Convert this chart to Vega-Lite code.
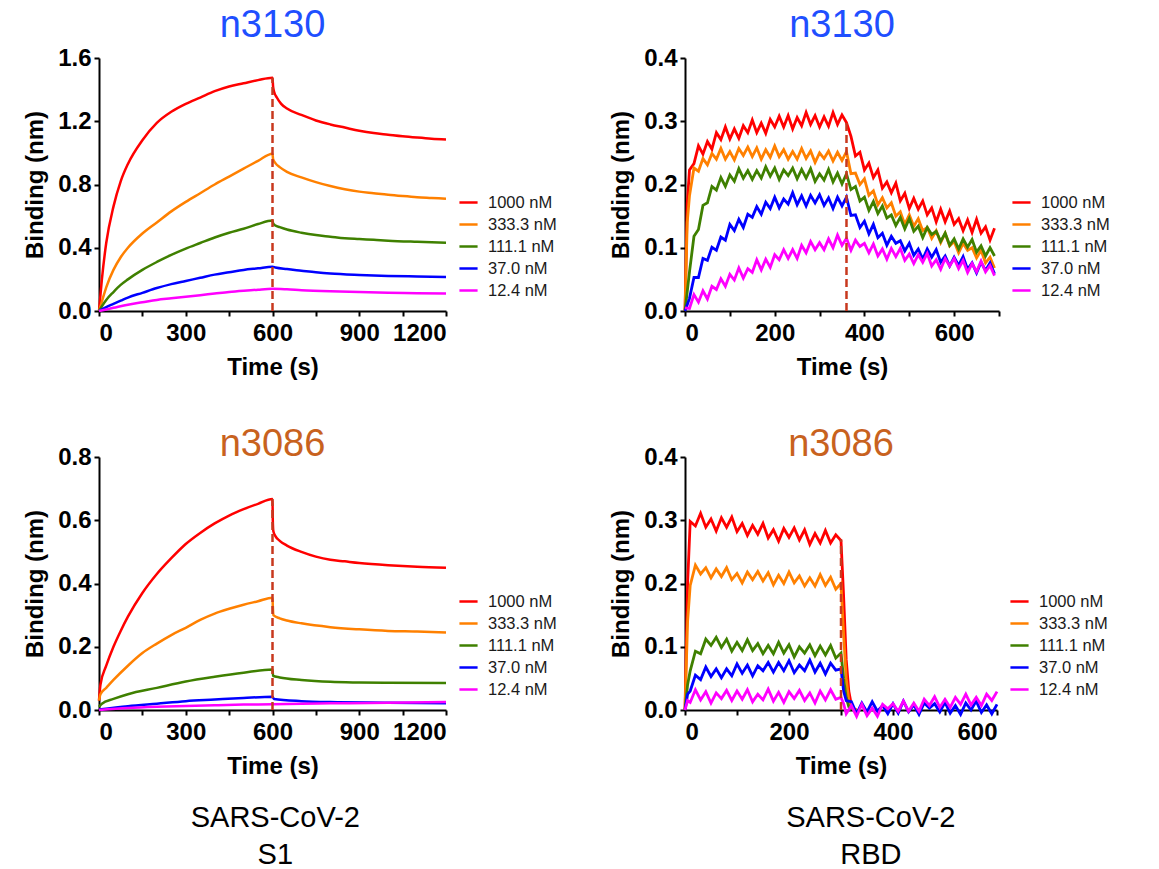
{
"$schema":"https://vega.github.io/schema/vega-lite/v6.json",
"background":"white",
"padding":{"left":23,"top":7,"right":0,"bottom":0},
"config":{
 "font":"Liberation Sans",
 "view":{"stroke":null},
 "axis":{"domainColor":"black","domainWidth":2,"tickColor":"black","tickWidth":2,"tickSize":5,"grid":false,"labelFont":"Liberation Sans","labelFontWeight":"bold","labelFontSize":24,"labelColor":"black","labelPadding":3,"titleFont":"Liberation Sans","titleFontWeight":"bold","titleFontSize":24,"titleColor":"black","titlePadding":10},
 "axisX":{"labelPadding":5},
 "legend":{"title":null,"symbolType":"stroke","symbolStrokeWidth":2.5,"symbolSize":330,"labelFont":"Liberation Sans","labelFontSize":16.5,"labelColor":"#1a1a1a","rowPadding":3,"labelOffset":9}
},
"datasets":{
"a":[
{"c":"1000 nM","t":0,"y":0},{"c":"1000 nM","t":10,"y":0.2},{"c":"1000 nM","t":25,"y":0.43},{"c":"1000 nM","t":50,"y":0.66},{"c":"1000 nM","t":75,"y":0.82},{"c":"1000 nM","t":100,"y":0.93},{"c":"1000 nM","t":150,"y":1.08},{"c":"1000 nM","t":200,"y":1.19},{"c":"1000 nM","t":250,"y":1.26},{"c":"1000 nM","t":300,"y":1.31},{"c":"1000 nM","t":350,"y":1.35},{"c":"1000 nM","t":400,"y":1.39},{"c":"1000 nM","t":450,"y":1.42},{"c":"1000 nM","t":500,"y":1.44},{"c":"1000 nM","t":550,"y":1.46},{"c":"1000 nM","t":600,"y":1.475},{"c":"1000 nM","t":602,"y":1.42},{"c":"1000 nM","t":605,"y":1.39},{"c":"1000 nM","t":615,"y":1.35},{"c":"1000 nM","t":630,"y":1.31},{"c":"1000 nM","t":650,"y":1.28},{"c":"1000 nM","t":700,"y":1.24},{"c":"1000 nM","t":750,"y":1.205},{"c":"1000 nM","t":800,"y":1.18},{"c":"1000 nM","t":850,"y":1.16},{"c":"1000 nM","t":900,"y":1.14},{"c":"1000 nM","t":950,"y":1.125},{"c":"1000 nM","t":1000,"y":1.115},{"c":"1000 nM","t":1050,"y":1.105},{"c":"1000 nM","t":1100,"y":1.097},{"c":"1000 nM","t":1150,"y":1.09},{"c":"1000 nM","t":1200,"y":1.085},
{"c":"333.3 nM","t":0,"y":0},{"c":"333.3 nM","t":10,"y":0.06},{"c":"333.3 nM","t":25,"y":0.15},{"c":"333.3 nM","t":50,"y":0.26},{"c":"333.3 nM","t":75,"y":0.34},{"c":"333.3 nM","t":100,"y":0.4},{"c":"333.3 nM","t":150,"y":0.49},{"c":"333.3 nM","t":200,"y":0.56},{"c":"333.3 nM","t":250,"y":0.63},{"c":"333.3 nM","t":300,"y":0.69},{"c":"333.3 nM","t":350,"y":0.745},{"c":"333.3 nM","t":400,"y":0.8},{"c":"333.3 nM","t":450,"y":0.85},{"c":"333.3 nM","t":500,"y":0.9},{"c":"333.3 nM","t":550,"y":0.95},{"c":"333.3 nM","t":600,"y":0.995},{"c":"333.3 nM","t":602,"y":0.96},{"c":"333.3 nM","t":610,"y":0.935},{"c":"333.3 nM","t":625,"y":0.91},{"c":"333.3 nM","t":650,"y":0.88},{"c":"333.3 nM","t":700,"y":0.845},{"c":"333.3 nM","t":750,"y":0.815},{"c":"333.3 nM","t":800,"y":0.79},{"c":"333.3 nM","t":850,"y":0.77},{"c":"333.3 nM","t":900,"y":0.755},{"c":"333.3 nM","t":950,"y":0.745},{"c":"333.3 nM","t":1000,"y":0.735},{"c":"333.3 nM","t":1050,"y":0.727},{"c":"333.3 nM","t":1100,"y":0.72},{"c":"333.3 nM","t":1150,"y":0.715},{"c":"333.3 nM","t":1200,"y":0.71},
{"c":"111.1 nM","t":0,"y":0},{"c":"111.1 nM","t":10,"y":0.03},{"c":"111.1 nM","t":25,"y":0.07},{"c":"111.1 nM","t":50,"y":0.12},{"c":"111.1 nM","t":75,"y":0.165},{"c":"111.1 nM","t":100,"y":0.2},{"c":"111.1 nM","t":150,"y":0.26},{"c":"111.1 nM","t":200,"y":0.31},{"c":"111.1 nM","t":250,"y":0.355},{"c":"111.1 nM","t":300,"y":0.395},{"c":"111.1 nM","t":350,"y":0.43},{"c":"111.1 nM","t":400,"y":0.465},{"c":"111.1 nM","t":450,"y":0.495},{"c":"111.1 nM","t":500,"y":0.52},{"c":"111.1 nM","t":550,"y":0.55},{"c":"111.1 nM","t":600,"y":0.572},{"c":"111.1 nM","t":602,"y":0.555},{"c":"111.1 nM","t":610,"y":0.54},{"c":"111.1 nM","t":625,"y":0.53},{"c":"111.1 nM","t":650,"y":0.515},{"c":"111.1 nM","t":700,"y":0.495},{"c":"111.1 nM","t":750,"y":0.48},{"c":"111.1 nM","t":800,"y":0.47},{"c":"111.1 nM","t":850,"y":0.46},{"c":"111.1 nM","t":900,"y":0.455},{"c":"111.1 nM","t":950,"y":0.45},{"c":"111.1 nM","t":1000,"y":0.445},{"c":"111.1 nM","t":1100,"y":0.438},{"c":"111.1 nM","t":1200,"y":0.432},
{"c":"37.0 nM","t":0,"y":0},{"c":"37.0 nM","t":25,"y":0.025},{"c":"37.0 nM","t":50,"y":0.045},{"c":"37.0 nM","t":75,"y":0.065},{"c":"37.0 nM","t":100,"y":0.085},{"c":"37.0 nM","t":150,"y":0.115},{"c":"37.0 nM","t":200,"y":0.145},{"c":"37.0 nM","t":250,"y":0.17},{"c":"37.0 nM","t":300,"y":0.19},{"c":"37.0 nM","t":350,"y":0.21},{"c":"37.0 nM","t":400,"y":0.23},{"c":"37.0 nM","t":450,"y":0.245},{"c":"37.0 nM","t":500,"y":0.26},{"c":"37.0 nM","t":550,"y":0.27},{"c":"37.0 nM","t":600,"y":0.28},{"c":"37.0 nM","t":610,"y":0.275},{"c":"37.0 nM","t":650,"y":0.265},{"c":"37.0 nM","t":700,"y":0.255},{"c":"37.0 nM","t":750,"y":0.245},{"c":"37.0 nM","t":800,"y":0.237},{"c":"37.0 nM","t":900,"y":0.228},{"c":"37.0 nM","t":1000,"y":0.222},{"c":"37.0 nM","t":1100,"y":0.218},{"c":"37.0 nM","t":1200,"y":0.215},
{"c":"12.4 nM","t":0,"y":0},{"c":"12.4 nM","t":25,"y":0.01},{"c":"12.4 nM","t":50,"y":0.02},{"c":"12.4 nM","t":100,"y":0.04},{"c":"12.4 nM","t":150,"y":0.055},{"c":"12.4 nM","t":200,"y":0.07},{"c":"12.4 nM","t":250,"y":0.08},{"c":"12.4 nM","t":300,"y":0.09},{"c":"12.4 nM","t":350,"y":0.1},{"c":"12.4 nM","t":400,"y":0.11},{"c":"12.4 nM","t":450,"y":0.12},{"c":"12.4 nM","t":500,"y":0.128},{"c":"12.4 nM","t":550,"y":0.135},{"c":"12.4 nM","t":600,"y":0.14},{"c":"12.4 nM","t":650,"y":0.137},{"c":"12.4 nM","t":700,"y":0.132},{"c":"12.4 nM","t":800,"y":0.125},{"c":"12.4 nM","t":900,"y":0.12},{"c":"12.4 nM","t":1000,"y":0.116},{"c":"12.4 nM","t":1100,"y":0.113},{"c":"12.4 nM","t":1200,"y":0.11}
],
"b":[
{"c":"1000 nM","t":0,"y":0},{"c":"1000 nM","t":5,"y":0.17},{"c":"1000 nM","t":10,"y":0.223},{"c":"1000 nM","t":20,"y":0.233},{"c":"1000 nM","t":30,"y":0.261},{"c":"1000 nM","t":40,"y":0.248},{"c":"1000 nM","t":50,"y":0.268},{"c":"1000 nM","t":60,"y":0.256},{"c":"1000 nM","t":70,"y":0.282},{"c":"1000 nM","t":80,"y":0.271},{"c":"1000 nM","t":90,"y":0.291},{"c":"1000 nM","t":100,"y":0.272},{"c":"1000 nM","t":110,"y":0.288},{"c":"1000 nM","t":120,"y":0.273},{"c":"1000 nM","t":130,"y":0.293},{"c":"1000 nM","t":140,"y":0.282},{"c":"1000 nM","t":150,"y":0.302},{"c":"1000 nM","t":160,"y":0.282},{"c":"1000 nM","t":170,"y":0.297},{"c":"1000 nM","t":180,"y":0.281},{"c":"1000 nM","t":190,"y":0.303},{"c":"1000 nM","t":200,"y":0.291},{"c":"1000 nM","t":210,"y":0.308},{"c":"1000 nM","t":220,"y":0.291},{"c":"1000 nM","t":230,"y":0.309},{"c":"1000 nM","t":240,"y":0.288},{"c":"1000 nM","t":250,"y":0.306},{"c":"1000 nM","t":260,"y":0.293},{"c":"1000 nM","t":270,"y":0.314},{"c":"1000 nM","t":280,"y":0.295},{"c":"1000 nM","t":290,"y":0.309},{"c":"1000 nM","t":300,"y":0.291},{"c":"1000 nM","t":310,"y":0.307},{"c":"1000 nM","t":320,"y":0.292},{"c":"1000 nM","t":330,"y":0.314},{"c":"1000 nM","t":340,"y":0.295},{"c":"1000 nM","t":350,"y":0.31},{"c":"1000 nM","t":360,"y":0.298},{"c":"1000 nM","t":370,"y":0.276},{"c":"1000 nM","t":380,"y":0.245},{"c":"1000 nM","t":390,"y":0.251},{"c":"1000 nM","t":400,"y":0.223},{"c":"1000 nM","t":410,"y":0.234},{"c":"1000 nM","t":420,"y":0.211},{"c":"1000 nM","t":430,"y":0.223},{"c":"1000 nM","t":440,"y":0.194},{"c":"1000 nM","t":450,"y":0.204},{"c":"1000 nM","t":460,"y":0.187},{"c":"1000 nM","t":470,"y":0.202},{"c":"1000 nM","t":480,"y":0.174},{"c":"1000 nM","t":490,"y":0.186},{"c":"1000 nM","t":500,"y":0.162},{"c":"1000 nM","t":510,"y":0.178},{"c":"1000 nM","t":520,"y":0.161},{"c":"1000 nM","t":530,"y":0.174},{"c":"1000 nM","t":540,"y":0.152},{"c":"1000 nM","t":550,"y":0.163},{"c":"1000 nM","t":560,"y":0.141},{"c":"1000 nM","t":570,"y":0.161},{"c":"1000 nM","t":580,"y":0.141},{"c":"1000 nM","t":590,"y":0.158},{"c":"1000 nM","t":600,"y":0.137},{"c":"1000 nM","t":610,"y":0.146},{"c":"1000 nM","t":620,"y":0.127},{"c":"1000 nM","t":630,"y":0.144},{"c":"1000 nM","t":640,"y":0.124},{"c":"1000 nM","t":650,"y":0.145},{"c":"1000 nM","t":660,"y":0.123},{"c":"1000 nM","t":670,"y":0.133},{"c":"1000 nM","t":680,"y":0.112},{"c":"1000 nM","t":690,"y":0.131},
{"c":"333.3 nM","t":0,"y":0},{"c":"333.3 nM","t":5,"y":0.14},{"c":"333.3 nM","t":10,"y":0.182},{"c":"333.3 nM","t":20,"y":0.226},{"c":"333.3 nM","t":30,"y":0.221},{"c":"333.3 nM","t":40,"y":0.241},{"c":"333.3 nM","t":50,"y":0.231},{"c":"333.3 nM","t":60,"y":0.249},{"c":"333.3 nM","t":70,"y":0.24},{"c":"333.3 nM","t":80,"y":0.257},{"c":"333.3 nM","t":90,"y":0.24},{"c":"333.3 nM","t":100,"y":0.252},{"c":"333.3 nM","t":110,"y":0.239},{"c":"333.3 nM","t":120,"y":0.257},{"c":"333.3 nM","t":130,"y":0.246},{"c":"333.3 nM","t":140,"y":0.259},{"c":"333.3 nM","t":150,"y":0.244},{"c":"333.3 nM","t":160,"y":0.258},{"c":"333.3 nM","t":170,"y":0.24},{"c":"333.3 nM","t":180,"y":0.255},{"c":"333.3 nM","t":190,"y":0.243},{"c":"333.3 nM","t":200,"y":0.261},{"c":"333.3 nM","t":210,"y":0.244},{"c":"333.3 nM","t":220,"y":0.255},{"c":"333.3 nM","t":230,"y":0.24},{"c":"333.3 nM","t":240,"y":0.252},{"c":"333.3 nM","t":250,"y":0.24},{"c":"333.3 nM","t":260,"y":0.257},{"c":"333.3 nM","t":270,"y":0.241},{"c":"333.3 nM","t":280,"y":0.253},{"c":"333.3 nM","t":290,"y":0.235},{"c":"333.3 nM","t":300,"y":0.25},{"c":"333.3 nM","t":310,"y":0.241},{"c":"333.3 nM","t":320,"y":0.253},{"c":"333.3 nM","t":330,"y":0.237},{"c":"333.3 nM","t":340,"y":0.251},{"c":"333.3 nM","t":350,"y":0.238},{"c":"333.3 nM","t":360,"y":0.252},{"c":"333.3 nM","t":370,"y":0.217},{"c":"333.3 nM","t":380,"y":0.218},{"c":"333.3 nM","t":390,"y":0.2},{"c":"333.3 nM","t":400,"y":0.209},{"c":"333.3 nM","t":410,"y":0.183},{"c":"333.3 nM","t":420,"y":0.19},{"c":"333.3 nM","t":430,"y":0.168},{"c":"333.3 nM","t":440,"y":0.179},{"c":"333.3 nM","t":450,"y":0.163},{"c":"333.3 nM","t":460,"y":0.171},{"c":"333.3 nM","t":470,"y":0.15},{"c":"333.3 nM","t":480,"y":0.157},{"c":"333.3 nM","t":490,"y":0.137},{"c":"333.3 nM","t":500,"y":0.152},{"c":"333.3 nM","t":510,"y":0.134},{"c":"333.3 nM","t":520,"y":0.146},{"c":"333.3 nM","t":530,"y":0.127},{"c":"333.3 nM","t":540,"y":0.132},{"c":"333.3 nM","t":550,"y":0.115},{"c":"333.3 nM","t":560,"y":0.127},{"c":"333.3 nM","t":570,"y":0.108},{"c":"333.3 nM","t":580,"y":0.123},{"c":"333.3 nM","t":590,"y":0.103},{"c":"333.3 nM","t":600,"y":0.11},{"c":"333.3 nM","t":610,"y":0.092},{"c":"333.3 nM","t":620,"y":0.107},{"c":"333.3 nM","t":630,"y":0.096},{"c":"333.3 nM","t":640,"y":0.1},{"c":"333.3 nM","t":650,"y":0.084},{"c":"333.3 nM","t":660,"y":0.096},{"c":"333.3 nM","t":670,"y":0.076},{"c":"333.3 nM","t":680,"y":0.085},{"c":"333.3 nM","t":690,"y":0.068},
{"c":"111.1 nM","t":0,"y":0},{"c":"111.1 nM","t":10,"y":0.062},{"c":"111.1 nM","t":20,"y":0.118},{"c":"111.1 nM","t":30,"y":0.129},{"c":"111.1 nM","t":40,"y":0.167},{"c":"111.1 nM","t":50,"y":0.171},{"c":"111.1 nM","t":60,"y":0.197},{"c":"111.1 nM","t":70,"y":0.191},{"c":"111.1 nM","t":80,"y":0.211},{"c":"111.1 nM","t":90,"y":0.197},{"c":"111.1 nM","t":100,"y":0.215},{"c":"111.1 nM","t":110,"y":0.205},{"c":"111.1 nM","t":120,"y":0.225},{"c":"111.1 nM","t":130,"y":0.21},{"c":"111.1 nM","t":140,"y":0.222},{"c":"111.1 nM","t":150,"y":0.208},{"c":"111.1 nM","t":160,"y":0.222},{"c":"111.1 nM","t":170,"y":0.21},{"c":"111.1 nM","t":180,"y":0.228},{"c":"111.1 nM","t":190,"y":0.213},{"c":"111.1 nM","t":200,"y":0.226},{"c":"111.1 nM","t":210,"y":0.208},{"c":"111.1 nM","t":220,"y":0.223},{"c":"111.1 nM","t":230,"y":0.214},{"c":"111.1 nM","t":240,"y":0.226},{"c":"111.1 nM","t":250,"y":0.209},{"c":"111.1 nM","t":260,"y":0.224},{"c":"111.1 nM","t":270,"y":0.21},{"c":"111.1 nM","t":280,"y":0.225},{"c":"111.1 nM","t":290,"y":0.205},{"c":"111.1 nM","t":300,"y":0.217},{"c":"111.1 nM","t":310,"y":0.207},{"c":"111.1 nM","t":320,"y":0.224},{"c":"111.1 nM","t":330,"y":0.204},{"c":"111.1 nM","t":340,"y":0.218},{"c":"111.1 nM","t":350,"y":0.201},{"c":"111.1 nM","t":360,"y":0.217},{"c":"111.1 nM","t":370,"y":0.192},{"c":"111.1 nM","t":380,"y":0.197},{"c":"111.1 nM","t":390,"y":0.174},{"c":"111.1 nM","t":400,"y":0.18},{"c":"111.1 nM","t":410,"y":0.159},{"c":"111.1 nM","t":420,"y":0.173},{"c":"111.1 nM","t":430,"y":0.154},{"c":"111.1 nM","t":440,"y":0.166},{"c":"111.1 nM","t":450,"y":0.147},{"c":"111.1 nM","t":460,"y":0.152},{"c":"111.1 nM","t":470,"y":0.135},{"c":"111.1 nM","t":480,"y":0.148},{"c":"111.1 nM","t":490,"y":0.13},{"c":"111.1 nM","t":500,"y":0.146},{"c":"111.1 nM","t":510,"y":0.126},{"c":"111.1 nM","t":520,"y":0.134},{"c":"111.1 nM","t":530,"y":0.116},{"c":"111.1 nM","t":540,"y":0.132},{"c":"111.1 nM","t":550,"y":0.121},{"c":"111.1 nM","t":560,"y":0.126},{"c":"111.1 nM","t":570,"y":0.11},{"c":"111.1 nM","t":580,"y":0.123},{"c":"111.1 nM","t":590,"y":0.104},{"c":"111.1 nM","t":600,"y":0.114},{"c":"111.1 nM","t":610,"y":0.098},{"c":"111.1 nM","t":620,"y":0.114},{"c":"111.1 nM","t":630,"y":0.101},{"c":"111.1 nM","t":640,"y":0.113},{"c":"111.1 nM","t":650,"y":0.093},{"c":"111.1 nM","t":660,"y":0.103},{"c":"111.1 nM","t":670,"y":0.087},{"c":"111.1 nM","t":680,"y":0.1},{"c":"111.1 nM","t":690,"y":0.087},
{"c":"37.0 nM","t":0,"y":0},{"c":"37.0 nM","t":10,"y":0.02},{"c":"37.0 nM","t":20,"y":0.053},{"c":"37.0 nM","t":30,"y":0.053},{"c":"37.0 nM","t":40,"y":0.083},{"c":"37.0 nM","t":50,"y":0.08},{"c":"37.0 nM","t":60,"y":0.101},{"c":"37.0 nM","t":70,"y":0.096},{"c":"37.0 nM","t":80,"y":0.117},{"c":"37.0 nM","t":90,"y":0.112},{"c":"37.0 nM","t":100,"y":0.137},{"c":"37.0 nM","t":110,"y":0.127},{"c":"37.0 nM","t":120,"y":0.145},{"c":"37.0 nM","t":130,"y":0.132},{"c":"37.0 nM","t":140,"y":0.153},{"c":"37.0 nM","t":150,"y":0.148},{"c":"37.0 nM","t":160,"y":0.165},{"c":"37.0 nM","t":170,"y":0.153},{"c":"37.0 nM","t":180,"y":0.172},{"c":"37.0 nM","t":190,"y":0.162},{"c":"37.0 nM","t":200,"y":0.18},{"c":"37.0 nM","t":210,"y":0.163},{"c":"37.0 nM","t":220,"y":0.177},{"c":"37.0 nM","t":230,"y":0.169},{"c":"37.0 nM","t":240,"y":0.187},{"c":"37.0 nM","t":250,"y":0.168},{"c":"37.0 nM","t":260,"y":0.182},{"c":"37.0 nM","t":270,"y":0.166},{"c":"37.0 nM","t":280,"y":0.183},{"c":"37.0 nM","t":290,"y":0.171},{"c":"37.0 nM","t":300,"y":0.184},{"c":"37.0 nM","t":310,"y":0.167},{"c":"37.0 nM","t":320,"y":0.179},{"c":"37.0 nM","t":330,"y":0.162},{"c":"37.0 nM","t":340,"y":0.18},{"c":"37.0 nM","t":350,"y":0.166},{"c":"37.0 nM","t":360,"y":0.18},{"c":"37.0 nM","t":370,"y":0.151},{"c":"37.0 nM","t":380,"y":0.152},{"c":"37.0 nM","t":390,"y":0.132},{"c":"37.0 nM","t":400,"y":0.142},{"c":"37.0 nM","t":410,"y":0.122},{"c":"37.0 nM","t":420,"y":0.137},{"c":"37.0 nM","t":430,"y":0.116},{"c":"37.0 nM","t":440,"y":0.123},{"c":"37.0 nM","t":450,"y":0.104},{"c":"37.0 nM","t":460,"y":0.118},{"c":"37.0 nM","t":470,"y":0.107},{"c":"37.0 nM","t":480,"y":0.111},{"c":"37.0 nM","t":490,"y":0.095},{"c":"37.0 nM","t":500,"y":0.107},{"c":"37.0 nM","t":510,"y":0.088},{"c":"37.0 nM","t":520,"y":0.098},{"c":"37.0 nM","t":530,"y":0.082},{"c":"37.0 nM","t":540,"y":0.098},{"c":"37.0 nM","t":550,"y":0.085},{"c":"37.0 nM","t":560,"y":0.097},{"c":"37.0 nM","t":570,"y":0.077},{"c":"37.0 nM","t":580,"y":0.087},{"c":"37.0 nM","t":590,"y":0.071},{"c":"37.0 nM","t":600,"y":0.085},{"c":"37.0 nM","t":610,"y":0.072},{"c":"37.0 nM","t":620,"y":0.086},{"c":"37.0 nM","t":630,"y":0.066},{"c":"37.0 nM","t":640,"y":0.076},{"c":"37.0 nM","t":650,"y":0.06},{"c":"37.0 nM","t":660,"y":0.077},{"c":"37.0 nM","t":670,"y":0.064},{"c":"37.0 nM","t":680,"y":0.076},{"c":"37.0 nM","t":690,"y":0.059},
{"c":"12.4 nM","t":0,"y":0.005},{"c":"12.4 nM","t":10,"y":0.004},{"c":"12.4 nM","t":20,"y":0.026},{"c":"12.4 nM","t":30,"y":0.014},{"c":"12.4 nM","t":40,"y":0.032},{"c":"12.4 nM","t":50,"y":0.019},{"c":"12.4 nM","t":60,"y":0.039},{"c":"12.4 nM","t":70,"y":0.034},{"c":"12.4 nM","t":80,"y":0.051},{"c":"12.4 nM","t":90,"y":0.039},{"c":"12.4 nM","t":100,"y":0.058},{"c":"12.4 nM","t":110,"y":0.049},{"c":"12.4 nM","t":120,"y":0.068},{"c":"12.4 nM","t":130,"y":0.052},{"c":"12.4 nM","t":140,"y":0.067},{"c":"12.4 nM","t":150,"y":0.061},{"c":"12.4 nM","t":160,"y":0.081},{"c":"12.4 nM","t":170,"y":0.065},{"c":"12.4 nM","t":180,"y":0.082},{"c":"12.4 nM","t":190,"y":0.069},{"c":"12.4 nM","t":200,"y":0.089},{"c":"12.4 nM","t":210,"y":0.081},{"c":"12.4 nM","t":220,"y":0.097},{"c":"12.4 nM","t":230,"y":0.083},{"c":"12.4 nM","t":240,"y":0.097},{"c":"12.4 nM","t":250,"y":0.083},{"c":"12.4 nM","t":260,"y":0.104},{"c":"12.4 nM","t":270,"y":0.092},{"c":"12.4 nM","t":280,"y":0.11},{"c":"12.4 nM","t":290,"y":0.097},{"c":"12.4 nM","t":300,"y":0.108},{"c":"12.4 nM","t":310,"y":0.097},{"c":"12.4 nM","t":320,"y":0.114},{"c":"12.4 nM","t":330,"y":0.1},{"c":"12.4 nM","t":340,"y":0.12},{"c":"12.4 nM","t":350,"y":0.104},{"c":"12.4 nM","t":360,"y":0.115},{"c":"12.4 nM","t":370,"y":0.096},{"c":"12.4 nM","t":380,"y":0.112},{"c":"12.4 nM","t":390,"y":0.102},{"c":"12.4 nM","t":400,"y":0.107},{"c":"12.4 nM","t":410,"y":0.092},{"c":"12.4 nM","t":420,"y":0.106},{"c":"12.4 nM","t":430,"y":0.087},{"c":"12.4 nM","t":440,"y":0.098},{"c":"12.4 nM","t":450,"y":0.082},{"c":"12.4 nM","t":460,"y":0.099},{"c":"12.4 nM","t":470,"y":0.086},{"c":"12.4 nM","t":480,"y":0.099},{"c":"12.4 nM","t":490,"y":0.08},{"c":"12.4 nM","t":500,"y":0.09},{"c":"12.4 nM","t":510,"y":0.075},{"c":"12.4 nM","t":520,"y":0.089},{"c":"12.4 nM","t":530,"y":0.077},{"c":"12.4 nM","t":540,"y":0.091},{"c":"12.4 nM","t":550,"y":0.071},{"c":"12.4 nM","t":560,"y":0.081},{"c":"12.4 nM","t":570,"y":0.066},{"c":"12.4 nM","t":580,"y":0.083},{"c":"12.4 nM","t":590,"y":0.071},{"c":"12.4 nM","t":600,"y":0.083},{"c":"12.4 nM","t":610,"y":0.067},{"c":"12.4 nM","t":620,"y":0.08},{"c":"12.4 nM","t":630,"y":0.061},{"c":"12.4 nM","t":640,"y":0.075},{"c":"12.4 nM","t":650,"y":0.062},{"c":"12.4 nM","t":660,"y":0.079},{"c":"12.4 nM","t":670,"y":0.062},{"c":"12.4 nM","t":680,"y":0.072},{"c":"12.4 nM","t":690,"y":0.056}
],
"c":[
{"c":"1000 nM","t":0,"y":0.03},{"c":"1000 nM","t":5,"y":0.08},{"c":"1000 nM","t":25,"y":0.14},{"c":"1000 nM","t":50,"y":0.2},{"c":"1000 nM","t":75,"y":0.25},{"c":"1000 nM","t":100,"y":0.295},{"c":"1000 nM","t":150,"y":0.37},{"c":"1000 nM","t":200,"y":0.43},{"c":"1000 nM","t":250,"y":0.48},{"c":"1000 nM","t":300,"y":0.525},{"c":"1000 nM","t":350,"y":0.56},{"c":"1000 nM","t":400,"y":0.59},{"c":"1000 nM","t":450,"y":0.615},{"c":"1000 nM","t":500,"y":0.635},{"c":"1000 nM","t":550,"y":0.652},{"c":"1000 nM","t":600,"y":0.667},{"c":"1000 nM","t":601,"y":0.6},{"c":"1000 nM","t":603,"y":0.565},{"c":"1000 nM","t":610,"y":0.55},{"c":"1000 nM","t":625,"y":0.535},{"c":"1000 nM","t":650,"y":0.52},{"c":"1000 nM","t":700,"y":0.5},{"c":"1000 nM","t":750,"y":0.485},{"c":"1000 nM","t":800,"y":0.475},{"c":"1000 nM","t":850,"y":0.47},{"c":"1000 nM","t":900,"y":0.465},{"c":"1000 nM","t":1000,"y":0.458},{"c":"1000 nM","t":1100,"y":0.453},{"c":"1000 nM","t":1200,"y":0.45},
{"c":"333.3 nM","t":0,"y":0.03},{"c":"333.3 nM","t":5,"y":0.05},{"c":"333.3 nM","t":25,"y":0.07},{"c":"333.3 nM","t":50,"y":0.095},{"c":"333.3 nM","t":100,"y":0.14},{"c":"333.3 nM","t":150,"y":0.18},{"c":"333.3 nM","t":200,"y":0.21},{"c":"333.3 nM","t":250,"y":0.237},{"c":"333.3 nM","t":300,"y":0.26},{"c":"333.3 nM","t":350,"y":0.285},{"c":"333.3 nM","t":400,"y":0.305},{"c":"333.3 nM","t":450,"y":0.32},{"c":"333.3 nM","t":500,"y":0.333},{"c":"333.3 nM","t":550,"y":0.344},{"c":"333.3 nM","t":600,"y":0.355},{"c":"333.3 nM","t":601,"y":0.33},{"c":"333.3 nM","t":603,"y":0.3},{"c":"333.3 nM","t":625,"y":0.29},{"c":"333.3 nM","t":650,"y":0.283},{"c":"333.3 nM","t":700,"y":0.274},{"c":"333.3 nM","t":800,"y":0.262},{"c":"333.3 nM","t":900,"y":0.255},{"c":"333.3 nM","t":1000,"y":0.25},{"c":"333.3 nM","t":1100,"y":0.248},{"c":"333.3 nM","t":1200,"y":0.245},
{"c":"111.1 nM","t":0,"y":0.01},{"c":"111.1 nM","t":10,"y":0.02},{"c":"111.1 nM","t":50,"y":0.035},{"c":"111.1 nM","t":100,"y":0.05},{"c":"111.1 nM","t":200,"y":0.07},{"c":"111.1 nM","t":300,"y":0.09},{"c":"111.1 nM","t":400,"y":0.105},{"c":"111.1 nM","t":500,"y":0.118},{"c":"111.1 nM","t":600,"y":0.128},{"c":"111.1 nM","t":602,"y":0.108},{"c":"111.1 nM","t":625,"y":0.103},{"c":"111.1 nM","t":700,"y":0.095},{"c":"111.1 nM","t":800,"y":0.089},{"c":"111.1 nM","t":900,"y":0.087},{"c":"111.1 nM","t":1000,"y":0.086},{"c":"111.1 nM","t":1200,"y":0.085},
{"c":"37.0 nM","t":0,"y":0.002},{"c":"37.0 nM","t":100,"y":0.012},{"c":"37.0 nM","t":200,"y":0.02},{"c":"37.0 nM","t":300,"y":0.028},{"c":"37.0 nM","t":400,"y":0.033},{"c":"37.0 nM","t":500,"y":0.038},{"c":"37.0 nM","t":600,"y":0.042},{"c":"37.0 nM","t":605,"y":0.035},{"c":"37.0 nM","t":700,"y":0.028},{"c":"37.0 nM","t":800,"y":0.025},{"c":"37.0 nM","t":1000,"y":0.023},{"c":"37.0 nM","t":1200,"y":0.021},
{"c":"12.4 nM","t":0,"y":0},{"c":"12.4 nM","t":100,"y":0.006},{"c":"12.4 nM","t":200,"y":0.01},{"c":"12.4 nM","t":300,"y":0.013},{"c":"12.4 nM","t":400,"y":0.015},{"c":"12.4 nM","t":500,"y":0.017},{"c":"12.4 nM","t":600,"y":0.018},{"c":"12.4 nM","t":700,"y":0.02},{"c":"12.4 nM","t":800,"y":0.021},{"c":"12.4 nM","t":1000,"y":0.023},{"c":"12.4 nM","t":1200,"y":0.025}
],
"d":[
{"c":"1000 nM","t":0,"y":0},{"c":"1000 nM","t":5,"y":0.2},{"c":"1000 nM","t":10,"y":0.298},{"c":"1000 nM","t":20,"y":0.291},{"c":"1000 nM","t":30,"y":0.311},{"c":"1000 nM","t":40,"y":0.289},{"c":"1000 nM","t":50,"y":0.302},{"c":"1000 nM","t":60,"y":0.283},{"c":"1000 nM","t":70,"y":0.304},{"c":"1000 nM","t":80,"y":0.289},{"c":"1000 nM","t":90,"y":0.305},{"c":"1000 nM","t":100,"y":0.282},{"c":"1000 nM","t":110,"y":0.295},{"c":"1000 nM","t":120,"y":0.276},{"c":"1000 nM","t":130,"y":0.292},{"c":"1000 nM","t":140,"y":0.278},{"c":"1000 nM","t":150,"y":0.295},{"c":"1000 nM","t":160,"y":0.272},{"c":"1000 nM","t":170,"y":0.285},{"c":"1000 nM","t":180,"y":0.267},{"c":"1000 nM","t":190,"y":0.287},{"c":"1000 nM","t":200,"y":0.273},{"c":"1000 nM","t":210,"y":0.288},{"c":"1000 nM","t":220,"y":0.269},{"c":"1000 nM","t":230,"y":0.285},{"c":"1000 nM","t":240,"y":0.262},{"c":"1000 nM","t":250,"y":0.279},{"c":"1000 nM","t":260,"y":0.264},{"c":"1000 nM","t":270,"y":0.284},{"c":"1000 nM","t":280,"y":0.264},{"c":"1000 nM","t":290,"y":0.277},{"c":"1000 nM","t":300,"y":0.268},{"c":"1000 nM","t":305,"y":0.18},{"c":"1000 nM","t":310,"y":0.08},{"c":"1000 nM","t":315,"y":0.03},{"c":"1000 nM","t":320,"y":0.008},{"c":"1000 nM","t":325,"y":0.002},{"c":"1000 nM","t":330,"y":0},
{"c":"333.3 nM","t":0,"y":0},{"c":"333.3 nM","t":5,"y":0.14},{"c":"333.3 nM","t":10,"y":0.197},{"c":"333.3 nM","t":20,"y":0.229},{"c":"333.3 nM","t":30,"y":0.215},{"c":"333.3 nM","t":40,"y":0.225},{"c":"333.3 nM","t":50,"y":0.209},{"c":"333.3 nM","t":60,"y":0.223},{"c":"333.3 nM","t":70,"y":0.211},{"c":"333.3 nM","t":80,"y":0.225},{"c":"333.3 nM","t":90,"y":0.206},{"c":"333.3 nM","t":100,"y":0.216},{"c":"333.3 nM","t":110,"y":0.201},{"c":"333.3 nM","t":120,"y":0.218},{"c":"333.3 nM","t":130,"y":0.206},{"c":"333.3 nM","t":140,"y":0.219},{"c":"333.3 nM","t":150,"y":0.204},{"c":"333.3 nM","t":160,"y":0.217},{"c":"333.3 nM","t":170,"y":0.198},{"c":"333.3 nM","t":180,"y":0.213},{"c":"333.3 nM","t":190,"y":0.2},{"c":"333.3 nM","t":200,"y":0.218},{"c":"333.3 nM","t":210,"y":0.201},{"c":"333.3 nM","t":220,"y":0.212},{"c":"333.3 nM","t":230,"y":0.196},{"c":"333.3 nM","t":240,"y":0.209},{"c":"333.3 nM","t":250,"y":0.196},{"c":"333.3 nM","t":260,"y":0.214},{"c":"333.3 nM","t":270,"y":0.197},{"c":"333.3 nM","t":280,"y":0.21},{"c":"333.3 nM","t":290,"y":0.191},{"c":"333.3 nM","t":300,"y":0.2},{"c":"333.3 nM","t":305,"y":0.12},{"c":"333.3 nM","t":310,"y":0.05},{"c":"333.3 nM","t":315,"y":0.015},{"c":"333.3 nM","t":320,"y":0.003},{"c":"333.3 nM","t":330,"y":0},
{"c":"111.1 nM","t":0,"y":0},{"c":"111.1 nM","t":5,"y":0.04},{"c":"111.1 nM","t":10,"y":0.062},{"c":"111.1 nM","t":20,"y":0.093},{"c":"111.1 nM","t":30,"y":0.089},{"c":"111.1 nM","t":40,"y":0.112},{"c":"111.1 nM","t":50,"y":0.102},{"c":"111.1 nM","t":60,"y":0.115},{"c":"111.1 nM","t":70,"y":0.099},{"c":"111.1 nM","t":80,"y":0.112},{"c":"111.1 nM","t":90,"y":0.093},{"c":"111.1 nM","t":100,"y":0.107},{"c":"111.1 nM","t":110,"y":0.094},{"c":"111.1 nM","t":120,"y":0.111},{"c":"111.1 nM","t":130,"y":0.094},{"c":"111.1 nM","t":140,"y":0.105},{"c":"111.1 nM","t":150,"y":0.089},{"c":"111.1 nM","t":160,"y":0.102},{"c":"111.1 nM","t":170,"y":0.089},{"c":"111.1 nM","t":180,"y":0.107},{"c":"111.1 nM","t":190,"y":0.09},{"c":"111.1 nM","t":200,"y":0.103},{"c":"111.1 nM","t":210,"y":0.084},{"c":"111.1 nM","t":220,"y":0.1},{"c":"111.1 nM","t":230,"y":0.09},{"c":"111.1 nM","t":240,"y":0.103},{"c":"111.1 nM","t":250,"y":0.086},{"c":"111.1 nM","t":260,"y":0.101},{"c":"111.1 nM","t":270,"y":0.087},{"c":"111.1 nM","t":280,"y":0.102},{"c":"111.1 nM","t":290,"y":0.082},{"c":"111.1 nM","t":300,"y":0.09},{"c":"111.1 nM","t":305,"y":0.05},{"c":"111.1 nM","t":310,"y":0.02},{"c":"111.1 nM","t":315,"y":0.005},{"c":"111.1 nM","t":320,"y":0},
{"c":"37.0 nM","t":0,"y":0},{"c":"37.0 nM","t":5,"y":0.025},{"c":"37.0 nM","t":10,"y":0.03},{"c":"37.0 nM","t":20,"y":0.055},{"c":"37.0 nM","t":30,"y":0.048},{"c":"37.0 nM","t":40,"y":0.068},{"c":"37.0 nM","t":50,"y":0.053},{"c":"37.0 nM","t":60,"y":0.065},{"c":"37.0 nM","t":70,"y":0.051},{"c":"37.0 nM","t":80,"y":0.065},{"c":"37.0 nM","t":90,"y":0.054},{"c":"37.0 nM","t":100,"y":0.073},{"c":"37.0 nM","t":110,"y":0.058},{"c":"37.0 nM","t":120,"y":0.071},{"c":"37.0 nM","t":130,"y":0.054},{"c":"37.0 nM","t":140,"y":0.07},{"c":"37.0 nM","t":150,"y":0.062},{"c":"37.0 nM","t":160,"y":0.075},{"c":"37.0 nM","t":170,"y":0.06},{"c":"37.0 nM","t":180,"y":0.075},{"c":"37.0 nM","t":190,"y":0.062},{"c":"37.0 nM","t":200,"y":0.078},{"c":"37.0 nM","t":210,"y":0.059},{"c":"37.0 nM","t":220,"y":0.071},{"c":"37.0 nM","t":230,"y":0.062},{"c":"37.0 nM","t":240,"y":0.079},{"c":"37.0 nM","t":250,"y":0.06},{"c":"37.0 nM","t":260,"y":0.074},{"c":"37.0 nM","t":270,"y":0.057},{"c":"37.0 nM","t":280,"y":0.074},{"c":"37.0 nM","t":290,"y":0.063},{"c":"37.0 nM","t":300,"y":0.065},{"c":"37.0 nM","t":305,"y":0.03},{"c":"37.0 nM","t":310,"y":0.015},{"c":"37.0 nM","t":320,"y":0.013},{"c":"37.0 nM","t":330,"y":-0.006},{"c":"37.0 nM","t":340,"y":0.011},{"c":"37.0 nM","t":350,"y":-0.003},{"c":"37.0 nM","t":360,"y":0.013},{"c":"37.0 nM","t":370,"y":-0.002},{"c":"37.0 nM","t":380,"y":0.007},{"c":"37.0 nM","t":390,"y":-0.006},{"c":"37.0 nM","t":400,"y":0.01},{"c":"37.0 nM","t":410,"y":-0.005},{"c":"37.0 nM","t":420,"y":0.014},{"c":"37.0 nM","t":430,"y":-0.003},{"c":"37.0 nM","t":440,"y":0.008},{"c":"37.0 nM","t":450,"y":-0.007},{"c":"37.0 nM","t":460,"y":0.011},{"c":"37.0 nM","t":470,"y":0.003},{"c":"37.0 nM","t":480,"y":0.01},{"c":"37.0 nM","t":490,"y":-0.003},{"c":"37.0 nM","t":500,"y":0.012},{"c":"37.0 nM","t":510,"y":-0.005},{"c":"37.0 nM","t":520,"y":0.007},{"c":"37.0 nM","t":530,"y":-0.007},{"c":"37.0 nM","t":540,"y":0.011},{"c":"37.0 nM","t":550,"y":0},{"c":"37.0 nM","t":560,"y":0.014},{"c":"37.0 nM","t":570,"y":-0.004},{"c":"37.0 nM","t":580,"y":0.008},{"c":"37.0 nM","t":590,"y":-0.006},{"c":"37.0 nM","t":600,"y":0.009},
{"c":"12.4 nM","t":0,"y":0},{"c":"12.4 nM","t":5,"y":0.015},{"c":"12.4 nM","t":10,"y":0.012},{"c":"12.4 nM","t":20,"y":0.032},{"c":"12.4 nM","t":30,"y":0.016},{"c":"12.4 nM","t":40,"y":0.029},{"c":"12.4 nM","t":50,"y":0.011},{"c":"12.4 nM","t":60,"y":0.027},{"c":"12.4 nM","t":70,"y":0.018},{"c":"12.4 nM","t":80,"y":0.031},{"c":"12.4 nM","t":90,"y":0.015},{"c":"12.4 nM","t":100,"y":0.03},{"c":"12.4 nM","t":110,"y":0.017},{"c":"12.4 nM","t":120,"y":0.032},{"c":"12.4 nM","t":130,"y":0.013},{"c":"12.4 nM","t":140,"y":0.025},{"c":"12.4 nM","t":150,"y":0.016},{"c":"12.4 nM","t":160,"y":0.033},{"c":"12.4 nM","t":170,"y":0.014},{"c":"12.4 nM","t":180,"y":0.028},{"c":"12.4 nM","t":190,"y":0.012},{"c":"12.4 nM","t":200,"y":0.029},{"c":"12.4 nM","t":210,"y":0.018},{"c":"12.4 nM","t":220,"y":0.031},{"c":"12.4 nM","t":230,"y":0.015},{"c":"12.4 nM","t":240,"y":0.027},{"c":"12.4 nM","t":250,"y":0.011},{"c":"12.4 nM","t":260,"y":0.03},{"c":"12.4 nM","t":270,"y":0.016},{"c":"12.4 nM","t":280,"y":0.032},{"c":"12.4 nM","t":290,"y":0.017},{"c":"12.4 nM","t":300,"y":0.02},{"c":"12.4 nM","t":305,"y":0.01},{"c":"12.4 nM","t":310,"y":-0.006},{"c":"12.4 nM","t":320,"y":0.007},{"c":"12.4 nM","t":330,"y":-0.01},{"c":"12.4 nM","t":340,"y":0.009},{"c":"12.4 nM","t":350,"y":-0.009},{"c":"12.4 nM","t":360,"y":0.003},{"c":"12.4 nM","t":370,"y":-0.01},{"c":"12.4 nM","t":380,"y":0.009},{"c":"12.4 nM","t":390,"y":0.002},{"c":"12.4 nM","t":400,"y":0.01},{"c":"12.4 nM","t":410,"y":-0.002},{"c":"12.4 nM","t":420,"y":0.014},{"c":"12.4 nM","t":430,"y":-0.002},{"c":"12.4 nM","t":440,"y":0.011},{"c":"12.4 nM","t":450,"y":-0.002},{"c":"12.4 nM","t":460,"y":0.017},{"c":"12.4 nM","t":470,"y":0.007},{"c":"12.4 nM","t":480,"y":0.021},{"c":"12.4 nM","t":490,"y":0.004},{"c":"12.4 nM","t":500,"y":0.017},{"c":"12.4 nM","t":510,"y":0.004},{"c":"12.4 nM","t":520,"y":0.02},{"c":"12.4 nM","t":530,"y":0.009},{"c":"12.4 nM","t":540,"y":0.025},{"c":"12.4 nM","t":550,"y":0.008},{"c":"12.4 nM","t":560,"y":0.02},{"c":"12.4 nM","t":570,"y":0.007},{"c":"12.4 nM","t":580,"y":0.025},{"c":"12.4 nM","t":590,"y":0.015},{"c":"12.4 nM","t":600,"y":0.029}
],
"ra":[{"t":600,"y":0,"y2":1.475}],
"rb":[{"t":360,"y":0,"y2":0.302}],
"rc":[{"t":600,"y":0,"y2":0.667}],
"rd":[{"t":300,"y":0,"y2":0.27}]
},
"hconcat":[
{"vconcat":[
 {"width":347,"height":253,
  "title":{"text":"n3130","color":"#1F4FFF","fontSize":38,"fontWeight":"normal","font":"Liberation Sans","anchor":"middle","frame":"group","baseline":"alphabetic","offset":-29},
  "layer":[
   {"data":{"name":"a"},"mark":{"type":"line","strokeWidth":2.5,"interpolate":"monotone"},
    "encoding":{
     "x":{"field":"t","type":"quantitative","scale":{"domain":[0,1200],"nice":false},"axis":{"title":"Time (s)","format":"d","values":[0,75,150,225,300,375,450,525,600,675,750,825,900,975,1050,1125,1200],"labelExpr":"datum.value % 300 === 0 ? datum.label : ''"}},
     "y":{"field":"y","type":"quantitative","scale":{"domain":[0,1.6],"nice":false},"axis":{"title":"Binding (nm)","values":[0,0.4,0.8,1.2,1.6],"format":".1f"}},
     "color":{"field":"c","type":"nominal","sort":null,"scale":{"domain":["1000 nM","333.3 nM","111.1 nM","37.0 nM","12.4 nM"],"range":["#FF0000","#FF8000","#3F8000","#0000FF","#FF00FF"]},"legend":{"orient":"none","legendX":359,"legendY":134}}
    }},
   {"data":{"name":"ra"},"mark":{"type":"rule","strokeDash":[8,4],"color":"#C8381E","strokeWidth":2.5},
    "encoding":{"x":{"field":"t","type":"quantitative"},"y":{"field":"y","type":"quantitative"},"y2":{"field":"y2"}}}
  ]},
 {"width":347,"height":253,
  "title":{"text":"n3086","color":"#C8621E","fontSize":38,"fontWeight":"normal","font":"Liberation Sans","anchor":"middle","frame":"group","baseline":"alphabetic","offset":-49},
  "layer":[
   {"data":{"name":"c"},"mark":{"type":"line","strokeWidth":2.5,"interpolate":"monotone"},
    "encoding":{
     "x":{"field":"t","type":"quantitative","scale":{"domain":[0,1200],"nice":false},"axis":{"title":"Time (s)","format":"d","values":[0,75,150,225,300,375,450,525,600,675,750,825,900,975,1050,1125,1200],"labelExpr":"datum.value % 300 === 0 ? datum.label : ''"}},
     "y":{"field":"y","type":"quantitative","scale":{"domain":[0,0.8],"nice":false},"axis":{"title":"Binding (nm)","values":[0,0.2,0.4,0.6,0.8],"format":".1f"}},
     "color":{"field":"c","type":"nominal","sort":null,"scale":{"domain":["1000 nM","333.3 nM","111.1 nM","37.0 nM","12.4 nM"],"range":["#FF0000","#FF8000","#3F8000","#0000FF","#FF00FF"]},"legend":{"orient":"none","legendX":359,"legendY":134}}
    }},
   {"data":{"name":"rc"},"mark":{"type":"rule","strokeDash":[8,4],"color":"#C8381E","strokeWidth":2.5},
    "encoding":{"x":{"field":"t","type":"quantitative"},"y":{"field":"y","type":"quantitative"},"y2":{"field":"y2"}}}
  ]}
 ],
 "spacing":47,
 "resolve":{"scale":{"color":"independent"},"legend":{"color":"independent"}},
 "title":{"text":["SARS-CoV-2","S1"],"orient":"bottom","anchor":"middle","frame":"bounds","fontSize":29,"fontWeight":"normal","font":"Liberation Sans","color":"black","lineHeight":37,"offset":26,"dx":-15}
},
{"vconcat":[
 {"width":314,"height":253,
  "title":{"text":"n3130","color":"#1F4FFF","fontSize":38,"fontWeight":"normal","font":"Liberation Sans","anchor":"middle","frame":"group","baseline":"alphabetic","offset":-29},
  "layer":[
   {"data":{"name":"b"},"mark":{"type":"line","strokeWidth":2.8,"interpolate":"linear"},
    "encoding":{
     "x":{"field":"t","type":"quantitative","scale":{"domain":[0,700],"nice":false},"axis":{"title":"Time (s)","format":"d","values":[0,50,100,150,200,250,300,350,400,450,500,550,600,650,700],"labelExpr":"datum.value % 200 === 0 ? datum.label : ''"}},
     "y":{"field":"y","type":"quantitative","scale":{"domain":[0,0.4],"nice":false},"axis":{"title":"Binding (nm)","values":[0,0.1,0.2,0.3,0.4],"format":".1f"}},
     "color":{"field":"c","type":"nominal","sort":null,"scale":{"domain":["1000 nM","333.3 nM","111.1 nM","37.0 nM","12.4 nM"],"range":["#FF0000","#FF8000","#3F8000","#0000FF","#FF00FF"]},"legend":{"orient":"none","legendX":326,"legendY":134}}
    }},
   {"data":{"name":"rb"},"mark":{"type":"rule","strokeDash":[8,4],"color":"#C8381E","strokeWidth":2.5},
    "encoding":{"x":{"field":"t","type":"quantitative"},"y":{"field":"y","type":"quantitative"},"y2":{"field":"y2"}}}
  ]},
 {"width":312,"height":253,
  "title":{"text":"n3086","color":"#C8621E","fontSize":38,"fontWeight":"normal","font":"Liberation Sans","anchor":"middle","frame":"group","baseline":"alphabetic","offset":-49},
  "layer":[
   {"data":{"name":"d"},"mark":{"type":"line","strokeWidth":2.8,"interpolate":"linear"},
    "encoding":{
     "x":{"field":"t","type":"quantitative","scale":{"domain":[0,600],"nice":false},"axis":{"title":"Time (s)","format":"d","values":[0,50,100,150,200,250,300,350,400,450,500,550,600],"labelExpr":"datum.value % 200 === 0 ? datum.label : ''"}},
     "y":{"field":"y","type":"quantitative","scale":{"domain":[0,0.4],"nice":false},"axis":{"title":"Binding (nm)","values":[0,0.1,0.2,0.3,0.4],"format":".1f"}},
     "color":{"field":"c","type":"nominal","sort":null,"scale":{"domain":["1000 nM","333.3 nM","111.1 nM","37.0 nM","12.4 nM"],"range":["#FF0000","#FF8000","#3F8000","#0000FF","#FF00FF"]},"legend":{"orient":"none","legendX":324,"legendY":134}}
    }},
   {"data":{"name":"rd"},"mark":{"type":"rule","strokeDash":[8,4],"color":"#C8381E","strokeWidth":2.5},
    "encoding":{"x":{"field":"t","type":"quantitative"},"y":{"field":"y","type":"quantitative"},"y2":{"field":"y2"}}}
  ]}
 ],
 "spacing":47,
 "resolve":{"scale":{"color":"independent"},"legend":{"color":"independent"}},
 "title":{"text":["SARS-CoV-2","RBD"],"orient":"bottom","anchor":"middle","frame":"bounds","fontSize":29,"fontWeight":"normal","font":"Liberation Sans","color":"black","lineHeight":37,"offset":26,"dx":11}
}
],
"spacing":52,
"resolve":{"scale":{"color":"independent"},"legend":{"color":"independent"}}
}
